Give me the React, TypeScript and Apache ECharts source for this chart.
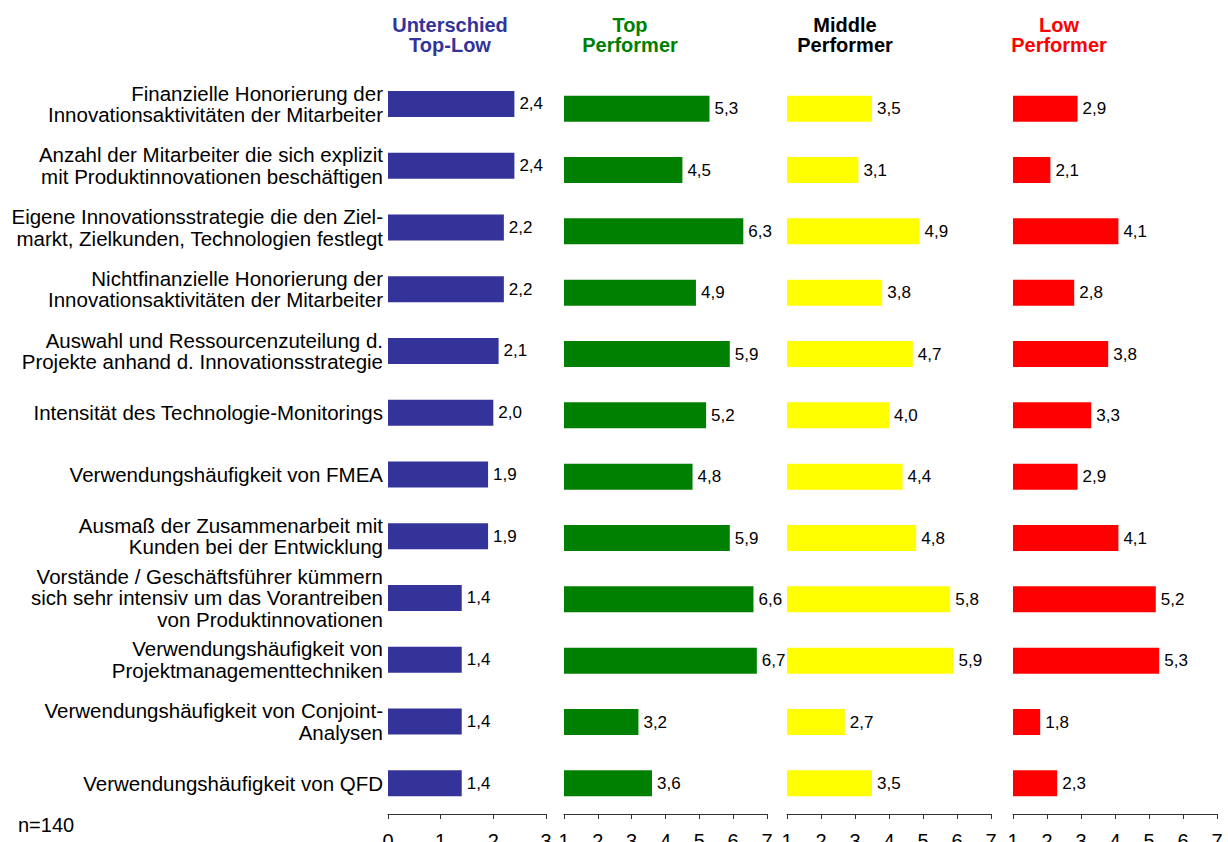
import React, { useEffect, useRef } from "react";
import * as echarts from "echarts";

const categories = [
  "Finanzielle Honorierung der\nInnovationsaktivitäten der Mitarbeiter",
  "Anzahl der Mitarbeiter die sich explizit\nmit Produktinnovationen beschäftigen",
  "Eigene Innovationsstrategie die den Ziel-\nmarkt, Zielkunden, Technologien festlegt",
  "Nichtfinanzielle Honorierung der\nInnovationsaktivitäten der Mitarbeiter",
  "Auswahl und Ressourcenzuteilung d.\nProjekte anhand d. Innovationsstrategie",
  "Intensität des Technologie-Monitorings",
  "Verwendungshäufigkeit von FMEA",
  "Ausmaß der Zusammenarbeit mit\nKunden bei der Entwicklung",
  "Vorstände / Geschäftsführer kümmern\nsich sehr intensiv um das Vorantreiben\nvon Produktinnovationen",
  "Verwendungshäufigkeit von\nProjektmanagementtechniken",
  "Verwendungshäufigkeit von Conjoint-\nAnalysen",
  "Verwendungshäufigkeit von QFD",
];

const diffTopLow = [2.4, 2.4, 2.2, 2.2, 2.1, 2.0, 1.9, 1.9, 1.4, 1.4, 1.4, 1.4];
const topPerformer = [5.3, 4.5, 6.3, 4.9, 5.9, 5.2, 4.8, 5.9, 6.6, 6.7, 3.2, 3.6];
const middlePerformer = [3.5, 3.1, 4.9, 3.8, 4.7, 4.0, 4.4, 4.8, 5.8, 5.9, 2.7, 3.5];
const lowPerformer = [2.9, 2.1, 4.1, 2.8, 3.8, 3.3, 2.9, 4.1, 5.2, 5.3, 1.8, 2.3];

const panelTitles = ["Unterschied\nTop-Low", "Top\nPerformer", "Middle\nPerformer", "Low\nPerformer"];
const sampleNote = "n=140";

const FONT = "'Liberation Sans', Arial, Helvetica, sans-serif";

export default function App() {
  const ref = useRef<HTMLDivElement>(null);

  useEffect(() => {
    if (!ref.current) return;
    const chart = echarts.init(ref.current, undefined, { renderer: "svg" });

    const panels = [
      { data: diffTopLow, color: "#333399", titleColor: "#333399", left: 388, width: 158, top: 73, min: 0, max: 3, titleX: 450 },
      { data: topPerformer, color: "#008000", titleColor: "#008000", left: 564, width: 203, top: 78, min: 1, max: 7, titleX: 630 },
      { data: middlePerformer, color: "#FFFF00", titleColor: "#000000", left: 787, width: 204, top: 78, min: 1, max: 7, titleX: 845 },
      { data: lowPerformer, color: "#FF0000", titleColor: "#FF0000", left: 1013, width: 204, top: 78, min: 1, max: 7, titleX: 1059 },
    ];
    const bottomY = 814;

    const option: any = {
      animation: false,
      textStyle: { fontFamily: FONT },
      grid: panels.map((p) => ({
        left: p.left,
        width: p.width,
        top: p.top,
        height: bottomY - p.top,
        containLabel: false,
        outerBoundsMode: "none",
      })),
      xAxis: panels.map((p, i) => ({
        type: "value",
        gridIndex: i,
        min: p.min,
        max: p.max,
        interval: 1,
        position: "bottom",
        splitLine: { show: false },
        axisLine: { show: true, lineStyle: { color: "#333333", width: 1 } },
        axisTick: { show: true, length: 5, lineStyle: { color: "#333333" } },
        axisLabel: {
          show: true,
          color: "#000000",
          fontSize: 20,
          fontFamily: FONT,
          margin: 17,
        },
      })),
      yAxis: panels.map((p, i) => ({
        type: "category",
        gridIndex: i,
        data: categories,
        inverse: true,
        axisLine: { show: false },
        axisTick: { show: false },
        splitLine: { show: false },
        axisLabel: {
          show: i === 0,
          color: "#000000",
          fontSize: 20.5,
          lineHeight: 21.5,
          fontFamily: FONT,
          margin: 5,
          align: "right",
        },
      })),
      series: panels.map((p, i) => ({
        type: "bar",
        xAxisIndex: i,
        yAxisIndex: i,
        data: p.data,
        barWidth: 26,
        itemStyle: { color: p.color },
        label: {
          show: true,
          position: "right",
          distance: 5,
          color: "#000000",
          fontSize: 17,
          fontFamily: FONT,
          formatter: (v: any) => Number(v.value).toFixed(1).replace(".", ","),
        },
      })),
      graphic: [
        ...panels.map((p, i) => ({
          type: "text",
          x: p.titleX,
          y: 35,
          style: {
            text: panelTitles[i],
            fill: p.titleColor,
            font: `bold 20px ${FONT}`,
            lineHeight: 20,
            align: "center",
            verticalAlign: "middle",
          },
        })),
        {
          type: "text",
          x: 18,
          y: 825,
          style: {
            text: sampleNote,
            fill: "#000000",
            font: `20px ${FONT}`,
            align: "left",
            verticalAlign: "middle",
          },
        },
      ],
    };

    chart.setOption(option);
    return () => chart.dispose();
  }, []);

  return (
    <div
      ref={ref}
      style={{ position: "fixed", left: 0, top: 0, width: 1228, height: 842, background: "#ffffff" }}
    />
  );
}
